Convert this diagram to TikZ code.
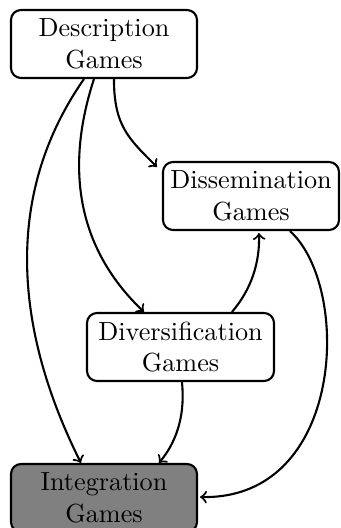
\documentclass[tikz,border=0pt]{standalone}
\begin{document}
\newdimen\pxu
\pxu=0.3817pt
\begin{tikzpicture}[
  x=0.3817pt, y=0.3817pt,
  game/.style={draw, thick, rounded corners=3.8pt, align=center,
    minimum height=68*\pxu, inner sep=0pt},
  link/.style={->, thick},
]
\useasboundingbox (0,0) rectangle (341,-528);

\node[game, minimum width=186*\pxu] (desc)   at (104,-44)   {Description\\Games};
\node[game, minimum width=176*\pxu] (dissem) at (251,-196)  {Dissemination\\Games};
\node[game, minimum width=187*\pxu] (divers) at (180.5,-347){Diversification\\Games};
\node[game, minimum width=186*\pxu, fill=black!50] (integ) at (104,-498) {Integration\\Games};

\draw[link] ([shift={(74,0)}]desc.south west) .. controls +(-85,-122) and +(-62,124) .. ([shift={(71,0)}]integ.north west);
\draw[link] ([shift={(84,0)}]desc.south west) .. controls +(-30,-92) and +(-65,62) .. ([shift={(58,0)}]divers.north west);
\draw[link] ([shift={(104,0)}]desc.south west) .. controls +(0,-47) and +(-28,28) .. ([shift={(-5,-6)}]dissem.north west);
\draw[link] ([shift={(146,0)}]divers.north west) .. controls +(19,22) and +(1,-30) .. ([shift={(97,-2)}]dissem.south west);
\draw[link] ([shift={(96,0)}]divers.south west) .. controls +(3,-29) and +(20,24) .. ([shift={(149,0)}]integ.north west);
\draw[link] ([shift={(128,0)}]dissem.south west) .. controls +(62,-56) and +(145,-3) .. ([shift={(2,1)}]integ.east);
\end{tikzpicture}
\end{document}
